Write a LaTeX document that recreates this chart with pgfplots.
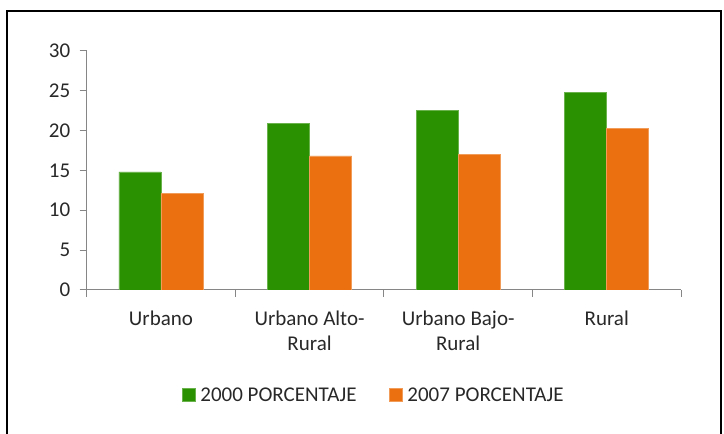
\documentclass[border=0pt]{standalone}
\usepackage{pgfplots}
\pgfplotsset{compat=1.18}
\usepackage{fontspec}
\setmainfont{Carlito}
\definecolor{cgreen}{RGB}{42,146,0}
\definecolor{corange}{RGB}{235,113,16}
\definecolor{axisgray}{RGB}{134,134,134}
\definecolor{txt}{RGB}{40,40,40}
\begin{document}
\begin{tikzpicture}[x=1bp,y=1bp,font=\fontsize{21bp}{25bp}\selectfont]
\path[use as bounding box] (0,0) rectangle (724,434);
\draw[line width=1.5bp] (7,-5) -- (7,423) -- (721,423) -- (721,-5);
\begin{axis}[
  at={(86.7bp,144bp)}, anchor=south west,
  scale only axis, width=594.3bp, height=239.3bp,
  ymin=0, ymax=30, ytick={0,5,...,30},
  xmin=-0.5, xmax=3.5,
  xtick={-0.5,0.5,1.5,2.5,3.5}, xticklabels={},
  extra x ticks={0,1,2,3},
  extra x tick labels={Urbano,{Urbano Alto-\\Rural},{Urbano Bajo-\\Rural},Rural},
  extra x tick style={major tick length=0pt, tick style={draw=none}},
  xticklabel style={align=center, text=txt, yshift=-17bp, font=\fontsize{21bp}{25bp}\selectfont},
  yticklabel style={text=txt, xshift=-6bp, font=\fontsize{21bp}{25bp}\selectfont},
  /pgf/number format/assume math mode=true,
  axis x line*=bottom, axis y line*=left,
  axis line style={draw=axisgray, line width=1bp, -},
  tick style={draw=axisgray, line width=1bp},
  tick align=outside, major tick length=7bp,
  ybar=0pt, bar width=42bp,
  legend columns=2,
  legend style={draw=none, fill=none, at={(0.4816,-0.4388)}, anchor=center,
    nodes={inner sep=0pt, text=txt, font=\fontsize{21bp}{25bp}\selectfont},
    /tikz/every odd column/.style={column sep=5bp},
    /tikz/every even column/.style={column sep=32.6bp}},
  legend image code/.code={\fill[#1] (0bp,-6.35bp) rectangle (12.7bp,6.35bp);},
]
\addplot[fill=cgreen, draw=cgreen!70!white, line width=0.5bp] coordinates {(0,14.8) (1,20.9) (2,22.5) (3,24.8)};
\addplot[fill=corange, draw=corange!70!white, line width=0.5bp] coordinates {(0,12.1) (1,16.8) (2,17.0) (3,20.3)};
\legend{2000 PORCENTAJE, 2007 PORCENTAJE}
\end{axis}
\end{tikzpicture}
\end{document}
